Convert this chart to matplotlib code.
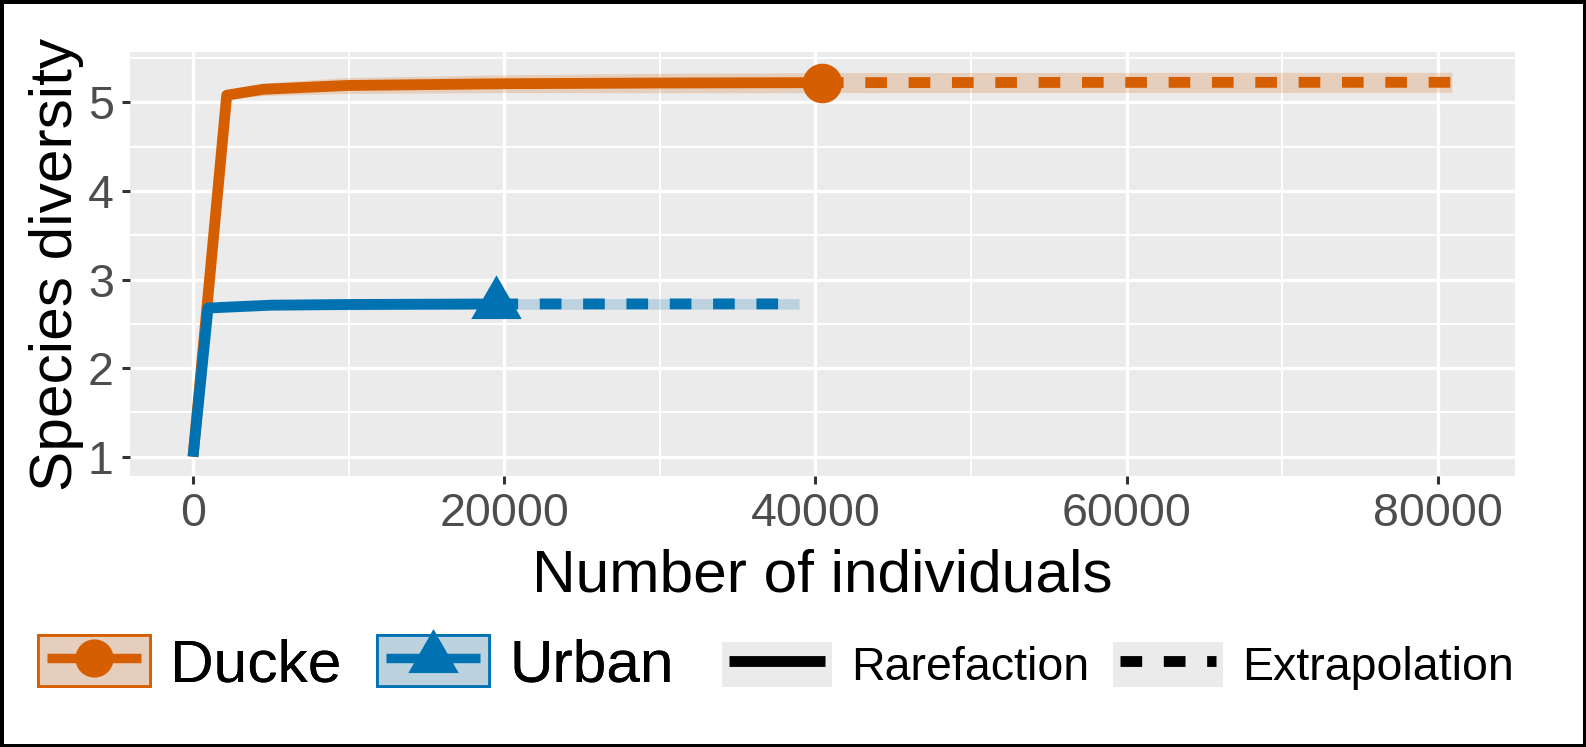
import matplotlib.pyplot as plt
from matplotlib.colors import to_rgba
from matplotlib.legend_handler import HandlerTuple, HandlerLine2D
from matplotlib.lines import Line2D
from matplotlib.patches import Patch

plt.rcParams['font.family'] = ['Liberation Sans', 'DejaVu Sans']

# -------- DATA --------
groups = ["Ducke", "Urban"]
methods = ["Rarefaction", "Extrapolation"]

ducke_rare_x = [1, 2166, 4500, 9900, 20000, 30000, 40420]
ducke_rare_y = [1.0, 5.08, 5.147, 5.19, 5.21, 5.218, 5.222]
ducke_rare_ci = [0.0, 0.04, 0.07, 0.09, 0.10, 0.11, 0.113]
ducke_ext_x = [40420, 60000, 80900]
ducke_ext_y = [5.222, 5.225, 5.226]
ducke_ext_ci = [0.113, 0.113, 0.113]

urban_rare_x = [1, 964, 5000, 10000, 19500]
urban_rare_y = [1.0, 2.678, 2.71, 2.718, 2.724]
urban_rare_ci = [0.0, 0.04, 0.05, 0.06, 0.06]
urban_ext_x = [19500, 38950]
urban_ext_y = [2.724, 2.725]
urban_ext_ci = [0.06, 0.06]

x_ticks = [0, 20000, 40000, 60000, 80000]
y_ticks = [1, 2, 3, 4, 5]

orange = "#D55E00"
blue = "#0072B2"
panel_bg = "#EBEBEB"
lw = 7.8

# equilateral triangle centred on its centroid (ggplot shape 17)
tri = [(-1, -0.577), (1, -0.577), (0, 1.155), (-1, -0.577)]


class InsetLine(HandlerLine2D):
    # legend line a bit shorter than the key box, like ggplot
    def get_xdata(self, legend, xdescent, ydescent, width, height, fontsize):
        pad = 0.15 * fontsize
        return ([-xdescent + pad, -xdescent + width - pad],
                [-xdescent + 0.5 * width])


fig = plt.figure(figsize=(15.86, 7.47), dpi=100)
fig.patch.set_edgecolor("black")
fig.patch.set_linewidth(5)
ax = fig.add_axes([130 / 1586, 271 / 747, 1385 / 1586, 424 / 747])
ax.set_facecolor(panel_bg)
for s in ax.spines.values():
    s.set_visible(False)


def band(x, y, ci, c):
    lo = [a - b for a, b in zip(y, ci)]
    hi = [a + b for a, b in zip(y, ci)]
    ax.fill_between(x, lo, hi, color=c, alpha=0.2, lw=0, zorder=2)


band(ducke_rare_x, ducke_rare_y, ducke_rare_ci, orange)
band(ducke_ext_x, ducke_ext_y, ducke_ext_ci, orange)
band(urban_rare_x, urban_rare_y, urban_rare_ci, blue)
band(urban_ext_x, urban_ext_y, urban_ext_ci, blue)

ax.plot(ducke_rare_x, ducke_rare_y, color=orange, lw=lw, solid_capstyle="butt",
        solid_joinstyle="round", zorder=3)
ax.plot(ducke_ext_x, ducke_ext_y, color=orange, lw=lw, dashes=(2, 2),
        dash_capstyle="butt", zorder=3)
ax.plot(urban_rare_x, urban_rare_y, color=blue, lw=lw, solid_capstyle="butt",
        solid_joinstyle="round", zorder=4)
ax.plot(urban_ext_x, urban_ext_y, color=blue, lw=lw, dashes=(2, 2),
        dash_capstyle="butt", zorder=4)
ax.plot([ducke_rare_x[-1]], [ducke_rare_y[-1]], "o", color=orange, ms=27.5, zorder=5)
ax.plot([urban_rare_x[-1]], [urban_rare_y[-1]], marker=tri, ls="none", color=blue,
        ms=42, mew=0, zorder=5)

ax.set_xlim(-4050, 84960)
ax.set_ylim(0.782, 5.568)
ax.set_xticks(x_ticks)
ax.set_yticks(y_ticks)
ax.set_xticks([10000, 30000, 50000, 70000], minor=True)
ax.set_yticks([1.5, 2.5, 3.5, 4.5, 5.5], minor=True)
ax.grid(which="major", color="white", lw=2.4, zorder=1)
ax.grid(which="minor", color="white", lw=1.4, zorder=1)
ax.set_axisbelow(True)
ax.tick_params(which="major", length=5.8, width=2.2, color="#333333",
               labelcolor="#4D4D4D", labelsize=33.5, pad=6)
ax.tick_params(which="minor", length=0)

ax.set_xlabel("Number of individuals", fontsize=43.5)
ax.xaxis.set_label_coords(0.5, -0.172)
ax.set_ylabel("Species diversity", fontsize=43.5)
ax.yaxis.set_label_coords(-0.0335, 0.5)

# -------- LEGENDS --------
hmap = {tuple: HandlerTuple(ndivide=1, pad=0), Line2D: InsetLine()}

group_handles = []
for c, m, ms in [(orange, "o", 27.5), (blue, tri, 42)]:
    group_handles.append((
        Patch(fc=panel_bg, ec="none"),
        Patch(fc=to_rgba(c, 0.2), ec=c, lw=2),
        Line2D([], [], color=c, lw=6.8, marker=m, ms=ms, mew=0,
               solid_capstyle="butt"),
    ))
leg1 = fig.legend(group_handles, groups, handler_map=hmap,
                  loc="center left", bbox_to_anchor=(38 / 1586, 1 - 664 / 747),
                  ncol=2, frameon=False, fontsize=43.5, handlelength=1.85,
                  handleheight=0.93, handletextpad=0.33, columnspacing=0.6,
                  borderpad=0, borderaxespad=0)

type_handles = [
    (Patch(fc=panel_bg, ec="none"),
     Line2D([], [], color="black", lw=lw, solid_capstyle="butt")),
    (Patch(fc=panel_bg, ec="none"),
     Line2D([], [], color="black", lw=lw, dashes=(2, 2), dash_capstyle="butt")),
]
leg2 = fig.legend(type_handles, methods, handler_map=hmap,
                  loc="center left", bbox_to_anchor=(722 / 1586, 1 - 666 / 747),
                  ncol=2, frameon=False, fontsize=33.5, handlelength=2.36,
                  handleheight=1.12, handletextpad=0.42, columnspacing=0.5,
                  borderpad=0, borderaxespad=0)
fig.add_artist(leg1)

fig.savefig("out.png", dpi=100)
